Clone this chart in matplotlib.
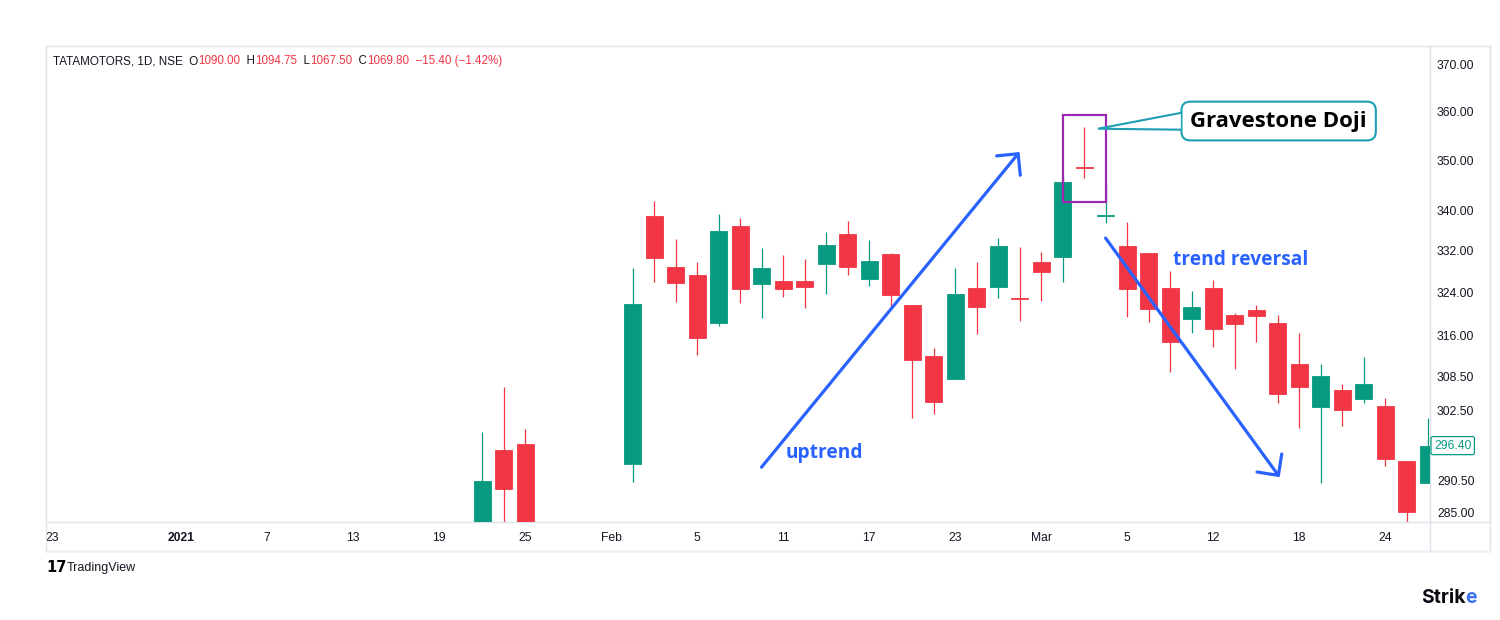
import matplotlib
matplotlib.use("Agg")
import matplotlib.pyplot as plt
import matplotlib.transforms as mtransforms
from matplotlib import font_manager
from matplotlib.patches import Rectangle, Polygon, FancyArrowPatch
from matplotlib.lines import Line2D
from matplotlib.ticker import NullLocator

plt.rcParams['font.family'] = ['Liberation Sans', 'DejaVu Sans']

# trading sessions on the time axis (NSE, holidays skipped)
sessions = ["2020-12-23", "2020-12-24", "2020-12-28", "2020-12-29", "2020-12-30", "2020-12-31",
            "2021-01-01", "2021-01-04", "2021-01-05", "2021-01-06", "2021-01-07", "2021-01-08",
            "2021-01-11", "2021-01-12", "2021-01-13", "2021-01-14", "2021-01-15", "2021-01-18",
            "2021-01-19", "2021-01-20", "2021-01-21", "2021-01-22", "2021-01-25", "2021-01-27",
            "2021-01-28", "2021-01-29", "2021-02-01", "2021-02-02", "2021-02-03", "2021-02-04",
            "2021-02-05", "2021-02-08", "2021-02-09", "2021-02-10", "2021-02-11", "2021-02-12",
            "2021-02-15", "2021-02-16", "2021-02-17", "2021-02-18", "2021-02-19", "2021-02-22",
            "2021-02-23", "2021-02-24", "2021-02-25", "2021-02-26", "2021-03-01", "2021-03-02",
            "2021-03-03", "2021-03-04", "2021-03-05", "2021-03-08", "2021-03-09", "2021-03-10",
            "2021-03-12", "2021-03-15", "2021-03-16", "2021-03-17", "2021-03-18", "2021-03-19",
            "2021-03-22", "2021-03-23", "2021-03-24", "2021-03-25", "2021-03-26"]

# candles that reach into the visible price window
bar_dates = ["2021-01-21", "2021-01-22", "2021-01-25",
             "2021-02-02", "2021-02-03", "2021-02-04", "2021-02-05", "2021-02-08", "2021-02-09",
             "2021-02-10", "2021-02-11", "2021-02-12", "2021-02-15", "2021-02-16", "2021-02-17",
             "2021-02-18", "2021-02-19", "2021-02-22", "2021-02-23", "2021-02-24", "2021-02-25",
             "2021-02-26", "2021-03-01", "2021-03-02", "2021-03-03", "2021-03-04", "2021-03-05",
             "2021-03-08", "2021-03-09", "2021-03-10", "2021-03-12", "2021-03-15", "2021-03-16",
             "2021-03-17", "2021-03-18", "2021-03-19", "2021-03-22", "2021-03-23", "2021-03-24",
             "2021-03-25", "2021-03-26"]
opens = [282.0, 295.7, 296.7,
         293.3, 338.9, 328.9, 327.4, 318.4, 336.9, 325.7, 326.3, 326.3, 329.5, 335.3, 326.6,
         331.4, 321.7, 312.3, 308.2, 324.9, 325.1, 323.0,
         329.9, 330.9, 348.6, 338.8, 333.0, 331.6, 324.9, 319.1, 324.9, 319.9, 320.8, 318.4,
         310.9, 303.2, 306.2, 304.6, 303.3, 293.8, 290.0]
highs = [298.8, 306.7, 299.3,
         328.7, 341.8, 334.3, 329.9, 339.3, 338.5, 332.6, 331.2, 330.5, 335.7, 337.9, 334.2,
         331.6, 321.7, 313.8, 328.7, 329.9, 334.5, 332.8,
         331.8, 346.8, 356.9, 345.4, 337.7, 331.6, 328.2, 324.4, 326.5, 320.2, 321.7, 319.9,
         316.5, 310.9, 307.3, 312.1, 304.8, 293.8, 301.2]
lows = [280.5, 281.0, 280.0,
        290.2, 326.1, 322.3, 312.5, 317.8, 322.1, 319.3, 323.2, 321.2, 323.8, 327.4, 325.3,
        321.0, 301.2, 301.9, 308.2, 316.3, 323.1, 318.8,
        322.5, 326.1, 346.4, 337.5, 319.5, 318.6, 309.4, 316.5, 314.0, 310.0, 314.9, 303.9,
        299.5, 290.0, 299.8, 303.9, 292.9, 283.3, 290.0]
closes = [290.4, 289.0, 283.0,
          321.9, 330.7, 325.9, 315.6, 335.9, 324.8, 328.7, 324.8, 325.1, 333.2, 328.9, 330.1,
          323.6, 311.6, 304.1, 323.8, 321.4, 333.0, 322.8,
          328.0, 345.6, 348.4, 339.0, 324.8, 321.0, 314.9, 321.4, 317.3, 318.2, 319.7, 305.5,
          306.7, 308.7, 302.6, 307.3, 294.1, 285.2, 296.4]

price_ticks = [285, 290.5, 302.5, 308.5, 316, 324, 332, 340, 350, 360, 370]
last_price = 296.40

date_ticks = ["2020-12-23", "2021-01-01", "2021-01-07", "2021-01-13", "2021-01-19", "2021-01-25",
              "2021-02-01", "2021-02-05", "2021-02-11", "2021-02-17", "2021-02-23",
              "2021-03-01", "2021-03-05", "2021-03-12", "2021-03-18", "2021-03-24"]
date_labels = ["23", "2021", "7", "13", "19", "25", "Feb", "5", "11", "17", "23",
               "Mar", "5", "12", "18", "24"]

header = [("TATAMOTORS, 1D, NSE  O", "dark"), ("1090.00", "red"), ("  H", "dark"),
          ("1094.75", "red"), ("  L", "dark"), ("1067.50", "red"), ("  C", "dark"),
          ("1069.80", "red"), ("  \u221215.40 (\u22121.42%)", "red")]

# drawings on the chart, as (bar index, price)
up_arrow = [(33.0, 292.7), (45.0, 351.7)]
down_arrow = [(49.0, 334.5), (57.1, 291.0)]
doji_box = [(47.0, 341.6), (49.0, 359.4)]
callout_center = (57.05, 358.1)
callout_wedge = [(52.5, 359.8), (48.65, 356.5), (52.5, 356.3)]
uptrend_label = (35.9, 295.1)
reversal_label = (55.3, 330.3)

UP = '#089981'
DOWN = '#F23645'
BLUE = '#2962FF'
PURPLE = '#9C27B0'
TEAL = '#1E9FB3'
LINE = '#E0E3EB'
TEXT = '#131722'

names = {f.name for f in font_manager.fontManager.ttflist}
narrow = 'Liberation Sans Narrow' if 'Liberation Sans Narrow' in names else 'Liberation Sans'

W, H = 1500, 620
fig = plt.figure(figsize=(15, 6.2), dpi=100)
fig.patch.set_facecolor('white')

L, R, T, B = 46, 1430, 46, 522
ax = fig.add_axes([L / W, 1 - B / H, (R - L) / W, (B - T) / H])

pos = {d: i for i, d in enumerate(sessions)}
for d, o, h, l, c in zip(bar_dates, opens, highs, lows, closes):
    x = pos[d]
    col = UP if c >= o else DOWN
    ax.vlines(x, l, h, color=col, lw=0.9, zorder=2)
    ax.bar(x, abs(c - o), bottom=min(o, c), width=0.79, color=col, edgecolor=col,
           linewidth=0.6, zorder=3)

ax.set_yscale('log')
ax.set_ylim(283.5, 374.1)
ax.set_xlim(-0.28, 64.09)

ax.yaxis.tick_right()
ax.set_yticks(price_ticks)
ax.set_yticklabels([f"{v:.2f}" for v in price_ticks])
ax.yaxis.set_minor_locator(NullLocator())
ax.tick_params(axis='y', length=0, pad=5, labelsize=8.7, labelcolor=TEXT)

ax.set_xticks([pos[d] for d in date_ticks])
ax.set_xticklabels(date_labels, fontfamily=narrow)
ax.tick_params(axis='x', length=0, pad=7, labelsize=8.7, labelcolor=TEXT)
for lab in ax.get_xticklabels():
    if lab.get_text() == "2021":
        lab.set_fontweight('bold')

for s in ax.spines.values():
    s.set_color(LINE)
    s.set_linewidth(1.0)

# frame around price and time scales
def fline(x0, y0, x1, y1, lw=1.0, col=LINE):
    fig.add_artist(Line2D([x0 / W, x1 / W], [1 - y0 / H, 1 - y1 / H], color=col, lw=lw,
                          transform=fig.transFigure))

fline(R, T, 1490, T)
fline(1490, T, 1490, 551)
fline(L, 551, 1490, 551, lw=1.8, col='#EEF0F5')
fline(L, B, L, 551)
fline(R, B, 1490, B)
fline(R, B, R, 551)

# last price tag
tag_tr = mtransforms.offset_copy(ax.get_yaxis_transform(), fig=fig, x=4, y=0, units='dots')
ax.text(1.0, last_price, f"{last_price:.2f}", transform=tag_tr, ha='left', va='center',
        fontsize=8.7, color=UP, zorder=6, clip_on=False,
        bbox=dict(boxstyle='round,pad=0.25,rounding_size=0.15', fc='white', ec=UP, lw=0.9))

# header with OHLC values
prev = fig.text(53 / W, 1 - 61 / H, header[0][0], fontsize=8.4, color=TEXT, va='center')
for txt, c in header[1:]:
    prev = ax.annotate(txt, xy=(1, 0), xycoords=prev, va='bottom', ha='left', fontsize=8.4,
                       color=DOWN if c == "red" else TEXT, annotation_clip=False)

# uptrend / reversal arrows
for pts in (up_arrow, down_arrow):
    ax.add_patch(FancyArrowPatch(pts[0], pts[1], arrowstyle='->,head_length=1.1,head_width=1.1',
                                 mutation_scale=10, lw=2.3, color=BLUE, shrinkA=0, shrinkB=0,
                                 zorder=5, capstyle='round', joinstyle='round'))
ax.text(*uptrend_label, "uptrend", color=BLUE, fontsize=13.8, fontweight='bold',
        fontfamily=['Open Sans', 'DejaVu Sans'], ha='center', va='center', zorder=6)
ax.text(*reversal_label, "trend reversal", color=BLUE, fontsize=13.8, fontweight='bold',
        fontfamily=['Open Sans', 'DejaVu Sans'], ha='center', va='center', zorder=6)

# gravestone doji highlight and callout
(x0, y0), (x1, y1) = doji_box
ax.add_patch(Rectangle((x0, y0), x1 - x0, y1 - y0, fill=False, ec=PURPLE, lw=1.6, zorder=5))
ax.text(*callout_center, "Gravestone Doji", color='black', fontsize=16, fontweight='bold',
        fontfamily=['Open Sans', 'DejaVu Sans'], ha='center', va='center', zorder=6,
        bbox=dict(boxstyle='round,pad=0.4,rounding_size=0.4', fc='white', ec=TEAL, lw=1.5))
# pointer: white inside so the box edge opens into it, teal outline on the two long sides
ax.add_patch(Polygon(callout_wedge, closed=True, fc='white', ec='none', zorder=7))
ax.plot([p[0] for p in callout_wedge], [p[1] for p in callout_wedge], color=TEAL, lw=1.5,
        zorder=8, solid_joinstyle='miter')

# watermarks
fig.text(46 / W, 1 - 568 / H, "17", fontsize=10.5, fontweight='heavy', color='black',
         family=['DejaVu Sans'], va='center')
fig.text(67 / W, 1 - 568 / H, "TradingView", fontsize=9, color=TEXT, family=narrow, va='center')
sk = fig.text(1421 / W, 1 - 598 / H, "Strik", fontsize=14, fontweight='bold', color='#0B0B14',
              family=['Inter', 'DejaVu Sans'], va='center')
ax.annotate("e", xy=(1, 0), xycoords=sk, va='bottom', ha='left', fontsize=14,
            fontweight='bold', color='#3A6FF2', family=['Inter', 'DejaVu Sans'],
            annotation_clip=False)

fig.savefig('out.png', dpi=100)
